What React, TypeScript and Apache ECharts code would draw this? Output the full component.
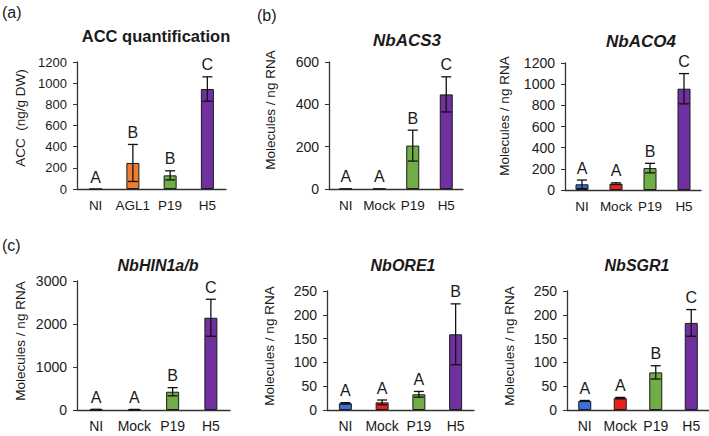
import React, { useEffect, useRef } from "react";
import * as echarts from "echarts";

// ---------- data ----------
const groupsA = ["NI", "AGL1", "P19", "H5"];
const groupsB = ["NI", "Mock", "P19", "H5"];

const accMean = [0, 246, 129, 945];
const accErr = [0, 175, 43, 115];
const accLetters = ["A", "B", "B", "C"];

const acs3Mean = [2, 2, 205, 447];
const acs3Err = [0, 0, 73, 83];
const acs3Letters = ["A", "A", "B", "C"];

const aco4Mean = [54, 60, 207, 957];
const aco4Err = [40, 8, 45, 143];
const aco4Letters = ["A", "A", "B", "C"];

const hin1Mean = [12, 10, 425, 2145];
const hin1Err = [5, 4, 95, 430];
const hin1Letters = ["A", "A", "B", "C"];

const ore1Mean = [14, 16, 33, 159];
const ore1Err = [1.5, 5, 6, 64];
const ore1Letters = ["A", "A", "A", "B"];

const sgr1Mean = [19, 25, 79, 183];
const sgr1Err = [1, 1.5, 14, 28];
const sgr1Letters = ["A", "A", "B", "C"];

const colorsA = ["#3b6fdc", "#ED7D31", "#70AD47", "#7030A0"];
const colorsB = ["#3b6fdc", "#e8231c", "#70AD47", "#7030A0"];

const FONT = "Arial, 'Liberation Sans', sans-serif";
const TXT = "#1a1a1a";
const AXIS = "#333333";

type Panel = {
  cats: string[];
  mean: number[];
  err: number[];
  letters: string[];
  colors: string[];
  max: number;
  interval: number;
  l: number; r: number; t: number; b: number;
  tickSize: number;
  catSize: number;
};

const panels: Panel[] = [
  { cats: groupsA, mean: accMean, err: accErr, letters: accLetters, colors: colorsA, max: 1200, interval: 200, l: 77, r: 226, t: 62, b: 189, tickSize: 13, catSize: 13.5 },
  { cats: groupsB, mean: acs3Mean, err: acs3Err, letters: acs3Letters, colors: colorsB, max: 600, interval: 200, l: 329, r: 463, t: 62, b: 189, tickSize: 14, catSize: 13.5 },
  { cats: groupsB, mean: aco4Mean, err: aco4Err, letters: aco4Letters, colors: colorsB, max: 1200, interval: 200, l: 565, r: 701, t: 63, b: 190, tickSize: 14, catSize: 13.5 },
  { cats: groupsB, mean: hin1Mean, err: hin1Err, letters: hin1Letters, colors: colorsB, max: 3000, interval: 1000, l: 77, r: 230, t: 281, b: 410, tickSize: 14, catSize: 14 },
  { cats: groupsB, mean: ore1Mean, err: ore1Err, letters: ore1Letters, colors: colorsB, max: 250, interval: 50, l: 327, r: 474, t: 291, b: 410, tickSize: 14, catSize: 14 },
  { cats: groupsB, mean: sgr1Mean, err: sgr1Err, letters: sgr1Letters, colors: colorsB, max: 250, interval: 50, l: 567, r: 709, t: 291, b: 410, tickSize: 14, catSize: 14 },
];

const titles = [
  { text: "ACC quantification", x: 156, y: 36, italic: false, size: 16.5 },
  { text: "NbACS3", x: 407, y: 40, italic: true, size: 17 },
  { text: "NbACO4", x: 641, y: 41, italic: true, size: 17 },
  { text: "NbHIN1a/b", x: 158, y: 265, italic: true, size: 16 },
  { text: "NbORE1", x: 403, y: 265, italic: true, size: 16 },
  { text: "NbSGR1", x: 637, y: 265, italic: true, size: 16 },
];

const axisNames = [
  { text: "ACC  (ng/g DW)", x: 20, y: 118, size: 13.5 },
  { text: "Molecules / ng RNA", x: 270, y: 110, size: 13.5 },
  { text: "Molecules / ng RNA", x: 504, y: 116, size: 13.5 },
  { text: "Molecules / ng RNA", x: 20, y: 341, size: 13.5 },
  { text: "Molecules / ng RNA", x: 269, y: 346, size: 13.5 },
  { text: "Molecules / ng RNA", x: 509, y: 346, size: 13.5 },
];

const panelTags = [
  { text: "(a)", x: 2, y: 12 },
  { text: "(b)", x: 257, y: 15 },
  { text: "(c)", x: 2, y: 245 },
];

export default function App() {
  const ref = useRef<HTMLDivElement>(null);

  useEffect(() => {
    if (!ref.current) return;
    const chart = echarts.init(ref.current, undefined, { renderer: "svg" });

    const grid: any[] = [];
    const xAxis: any[] = [];
    const yAxis: any[] = [];
    const series: any[] = [];

    panels.forEach((p, i) => {
      grid.push({ left: p.l, top: p.t, width: p.r - p.l, height: p.b - p.t, containLabel: false });
      xAxis.push({
        type: "category",
        gridIndex: i,
        data: p.cats,
        boundaryGap: true,
        axisLine: { show: true, lineStyle: { color: AXIS, width: 1.3 } },
        axisTick: { show: false },
        axisLabel: { color: TXT, fontSize: p.catSize, fontFamily: FONT, margin: 9, interval: 0 },
        splitLine: { show: false },
      });
      yAxis.push({
        type: "value",
        gridIndex: i,
        min: 0,
        max: p.max,
        interval: p.interval,
        axisLine: { show: true, lineStyle: { color: AXIS, width: 1.3 } },
        axisTick: { show: true, inside: false, length: 4, lineStyle: { color: AXIS, width: 1 } },
        axisLabel: {
          color: TXT,
          fontSize: p.tickSize,
          fontFamily: FONT,
          margin: 10,
          formatter: (v: number) => String(v),
        },
        splitLine: { show: false },
      });
      series.push({
        type: "bar",
        xAxisIndex: i,
        yAxisIndex: i,
        barWidth: 13,
        data: p.mean.map((v, k) => ({
          value: v,
          itemStyle: { color: p.colors[k], borderColor: "#1a1a1a", borderWidth: 1 },
        })),
        silent: true,
        z: 2,
      });
      series.push({
        type: "custom",
        xAxisIndex: i,
        yAxisIndex: i,
        encode: { x: 0, y: 1 },
        data: p.mean.map((v, k) => [k, v, p.err[k]]),
        z: 5,
        silent: true,
        renderItem: (params: any, api: any) => {
          const x = api.value(0);
          const m = api.value(1);
          const e = api.value(2);
          const top = api.coord([x, m + e]);
          const bot = api.coord([x, Math.max(0, m - e)]);
          const children: any[] = [];
          const lineStyle = { stroke: "#111", lineWidth: 1.3 };
          if (e > 0) {
            children.push({ type: "line", shape: { x1: top[0], y1: top[1], x2: bot[0], y2: bot[1] }, style: lineStyle });
            children.push({ type: "line", shape: { x1: top[0] - 5, y1: top[1], x2: top[0] + 5, y2: top[1] }, style: lineStyle });
            children.push({ type: "line", shape: { x1: bot[0] - 5, y1: bot[1], x2: bot[0] + 5, y2: bot[1] }, style: lineStyle });
          }
          children.push({
            type: "text",
            style: {
              text: p.letters[params.dataIndex],
              x: top[0],
              y: top[1] - 12,
              align: "center",
              verticalAlign: "middle",
              textAlign: "center",
              textVerticalAlign: "middle",
              fontSize: 16,
              fontFamily: FONT,
              fill: TXT,
            },
          });
          return { type: "group", children };
        },
      });
    });

    const graphic: any[] = [];
    titles.forEach((t) => {
      graphic.push({
        type: "text",
        x: t.x,
        y: t.y,
        style: {
          text: t.text,
          align: "center",
          verticalAlign: "middle",
          textAlign: "center",
          textVerticalAlign: "middle",
          fontSize: t.size,
          fontWeight: "bold",
          fontStyle: t.italic ? "italic" : "normal",
          fontFamily: FONT,
          fill: TXT,
        },
      });
    });
    axisNames.forEach((t) => {
      graphic.push({
        type: "text",
        x: t.x,
        y: t.y,
        rotation: Math.PI / 2,
        style: {
          text: t.text,
          align: "center",
          verticalAlign: "middle",
          textAlign: "center",
          textVerticalAlign: "middle",
          fontSize: t.size,
          fontFamily: FONT,
          fill: TXT,
        },
      });
    });
    panelTags.forEach((t) => {
      graphic.push({
        type: "text",
        x: t.x,
        y: t.y,
        style: {
          text: t.text,
          align: "left",
          verticalAlign: "middle",
          textAlign: "left",
          textVerticalAlign: "middle",
          fontSize: 16,
          fontFamily: FONT,
          fill: TXT,
        },
      });
    });

    chart.setOption({
      animation: false,
      backgroundColor: "#ffffff",
      grid,
      xAxis,
      yAxis,
      series,
      graphic,
    });

    return () => {
      chart.dispose();
    };
  }, []);

  return (
    <div
      ref={ref}
      style={{ position: "fixed", left: 0, top: 0, width: 709, height: 436, background: "#fff" }}
    />
  );
}
